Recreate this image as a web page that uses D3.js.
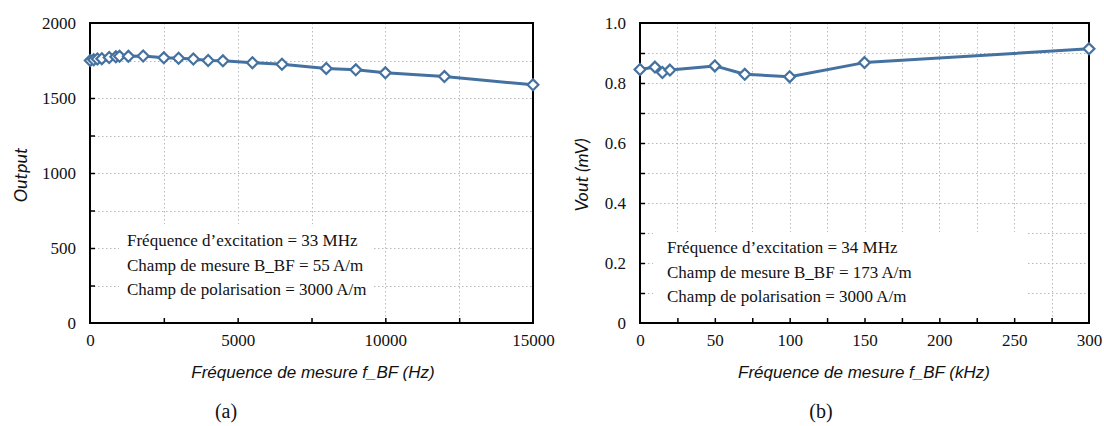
<!DOCTYPE html>
<html>
<head>
<meta charset="utf-8">
<script src="https://cdn.jsdelivr.net/npm/d3@7"></script>
<style>
  html, body { margin: 0; padding: 0; background: #fff; }
  svg { display: block; }
</style>
</head>
<body>
<svg id="chart" width="1104" height="426"></svg>
<script>
// ---- Data: chart (a) ----
const freqA = [10, 125, 250, 400, 650, 875, 1000, 1300, 1800, 2500, 3000, 3500, 4000, 4500, 5500, 6500, 8000, 9000, 10000, 12000, 15000];
const outputA = [1750, 1755, 1760, 1762, 1770, 1775, 1778, 1778, 1780, 1768, 1765, 1760, 1750, 1748, 1735, 1725, 1697, 1688, 1668, 1643, 1588];
const xTicksA = [0, 5000, 10000, 15000];
const yTicksA = [0, 500, 1000, 1500, 2000];
const annotA = ["Fréquence d’excitation = 33 MHz", "Champ de mesure B_BF = 55 A/m", "Champ de polarisation = 3000 A/m"];

// ---- Data: chart (b) ----
const freqB = [0, 10, 15, 20, 50, 70, 100, 150, 300];
const voutB = [0.845, 0.853, 0.835, 0.843, 0.857, 0.829, 0.821, 0.868, 0.914];
const xTicksB = [0, 50, 100, 150, 200, 250, 300];
const yTicksB = [0, 0.2, 0.4, 0.6, 0.8, 1.0];
const annotB = ["Fréquence d’excitation = 34 MHz", "Champ de mesure B_BF = 173 A/m", "Champ de polarisation = 3000 A/m"];

const svg = d3.select("#chart");
const LINE = "#44719f";
const SERIF = "'Liberation Serif', 'Times New Roman', serif";

function panel(cfg) {
  const g = svg.append("g");
  const x = d3.scaleLinear().domain(cfg.xDomain).range([cfg.x0, cfg.x1]);
  const y = d3.scaleLinear().domain(cfg.yDomain).range([cfg.y1, cfg.y0]);

  // grid (dotted)
  const grid = g.append("g").attr("stroke", "#b8b8b8").attr("stroke-width", 1).attr("stroke-dasharray", "1.5,2.5");
  grid.selectAll("line.v").data(cfg.xGrid).enter().append("line")
    .attr("x1", d => Math.round(x(d)) + 0.5).attr("x2", d => Math.round(x(d)) + 0.5)
    .attr("y1", cfg.y0).attr("y2", cfg.y1);
  grid.selectAll("line.h").data(cfg.yGrid).enter().append("line")
    .attr("y1", d => Math.round(y(d)) + 0.5).attr("y2", d => Math.round(y(d)) + 0.5)
    .attr("x1", cfg.x0).attr("x2", cfg.x1);

  // annotation box (white) hides grid
  g.append("rect").attr("x", cfg.box[0]).attr("y", cfg.box[1]).attr("width", cfg.box[2]).attr("height", cfg.box[3]).attr("fill", "#fff");
  g.selectAll("text.ann").data(cfg.annot).enter().append("text")
    .attr("x", cfg.annX).attr("y", (d, i) => cfg.annY + i * 24.5)
    .attr("font-family", SERIF).attr("font-size", 17)
    .attr("fill", "#111").text(d => d);

  // inner ticks
  g.append("g").attr("transform", `translate(${cfg.x0},0)`)
    .call(d3.axisRight(y).tickValues(cfg.yGrid).tickSize(5).tickFormat(""))
    .call(s => s.select(".domain").remove())
    .selectAll("line").attr("stroke", "#000").attr("stroke-width", 1.5);
  g.append("g").attr("transform", `translate(0,${cfg.y1})`)
    .call(d3.axisTop(x).tickValues(cfg.xGrid).tickSize(5).tickFormat(""))
    .call(s => s.select(".domain").remove())
    .selectAll("line").attr("stroke", "#000").attr("stroke-width", 1.5);

  // tick labels
  const yAx = g.append("g").attr("transform", `translate(${cfg.x0},0)`)
    .call(d3.axisLeft(y).tickValues(cfg.yTicks).tickSize(0).tickPadding(14).tickFormat(cfg.yFmt));
  yAx.select(".domain").remove();
  yAx.selectAll("text").attr("font-family", SERIF).attr("font-size", 17).attr("fill", "#111");
  const xAx = g.append("g").attr("transform", `translate(0,${cfg.y1})`)
    .call(d3.axisBottom(x).tickValues(cfg.xTicks).tickSize(0).tickPadding(11).tickFormat(d3.format("d")));
  xAx.select(".domain").remove();
  xAx.selectAll("text").attr("font-family", SERIF).attr("font-size", 17).attr("fill", "#111");

  // frame
  g.append("rect").attr("x", cfg.x0).attr("y", cfg.y0).attr("width", cfg.x1 - cfg.x0).attr("height", cfg.y1 - cfg.y0)
    .attr("fill", "none").attr("stroke", "#000").attr("stroke-width", 2);

  // line + markers
  const pts = cfg.xs.map((v, i) => [v, cfg.ys[i]]);
  g.append("path").datum(pts)
    .attr("d", d3.line().x(d => x(d[0])).y(d => y(d[1])))
    .attr("fill", "none").attr("stroke", LINE).attr("stroke-width", 3).attr("stroke-linejoin", "round");
  g.selectAll("path.mk").data(pts).enter().append("path")
    .attr("d", d3.symbol().type(d3.symbolDiamond2).size(75))
    .attr("transform", d => `translate(${x(d[0])},${y(d[1])})`)
    .attr("fill", "#fff").attr("stroke", LINE).attr("stroke-width", 2.2);

  // axis titles
  g.append("text").attr("x", cfg.xTitleX).attr("y", 378)
    .attr("text-anchor", "middle").attr("font-family", "'Liberation Sans', Arial, sans-serif")
    .attr("font-style", "italic").attr("font-size", 17).attr("fill", "#111").text(cfg.xTitle);
  g.append("text").attr("transform", `translate(${cfg.yTitleX},${cfg.yTitleY}) rotate(-90)`)
    .attr("text-anchor", "middle").attr("font-family", "Lato, 'Open Sans', sans-serif")
    .attr("font-style", "italic").attr("font-size", 18).attr("fill", "#111").text(cfg.yTitle);

  // panel label
  g.append("text").attr("x", cfg.labelX).attr("y", 418).attr("text-anchor", "middle")
    .attr("font-family", SERIF).attr("font-size", 20).attr("fill", "#111").text(cfg.label);
}

panel({
  xDomain: [0, 15000], yDomain: [0, 2000],
  x0: 90, x1: 533, y0: 23, y1: 323,
  xGrid: d3.range(2500, 15000, 2500), yGrid: d3.range(250, 2000, 250),
  xTicks: xTicksA, yTicks: yTicksA, yFmt: d3.format("d"),
  xs: freqA, ys: outputA,
  box: [119, 224, 253, 94], annot: annotA, annX: 127, annY: 246,
  xTitle: "Fréquence de mesure f_BF (Hz)", xTitleX: 313, yTitle: "Output", yTitleX: 27, yTitleY: 175,
  label: "(a)", labelX: 226
});

panel({
  xDomain: [0, 300], yDomain: [0, 1],
  x0: 640, x1: 1089, y0: 23, y1: 323,
  xGrid: d3.range(25, 300, 25), yGrid: d3.range(1, 10).map(i => i / 10),
  xTicks: xTicksB, yTicks: yTicksB, yFmt: d => d === 0 ? "0" : d3.format(".1f")(d),
  xs: freqB, ys: voutB,
  box: [653, 232, 374, 88], annot: annotB, annX: 667, annY: 253,
  xTitle: "Fréquence de mesure f_BF (kHz)", xTitleX: 864, yTitle: "Vout (mV)", yTitleX: 588, yTitleY: 175,
  label: "(b)", labelX: 821
});
</script>
</body>
</html>
